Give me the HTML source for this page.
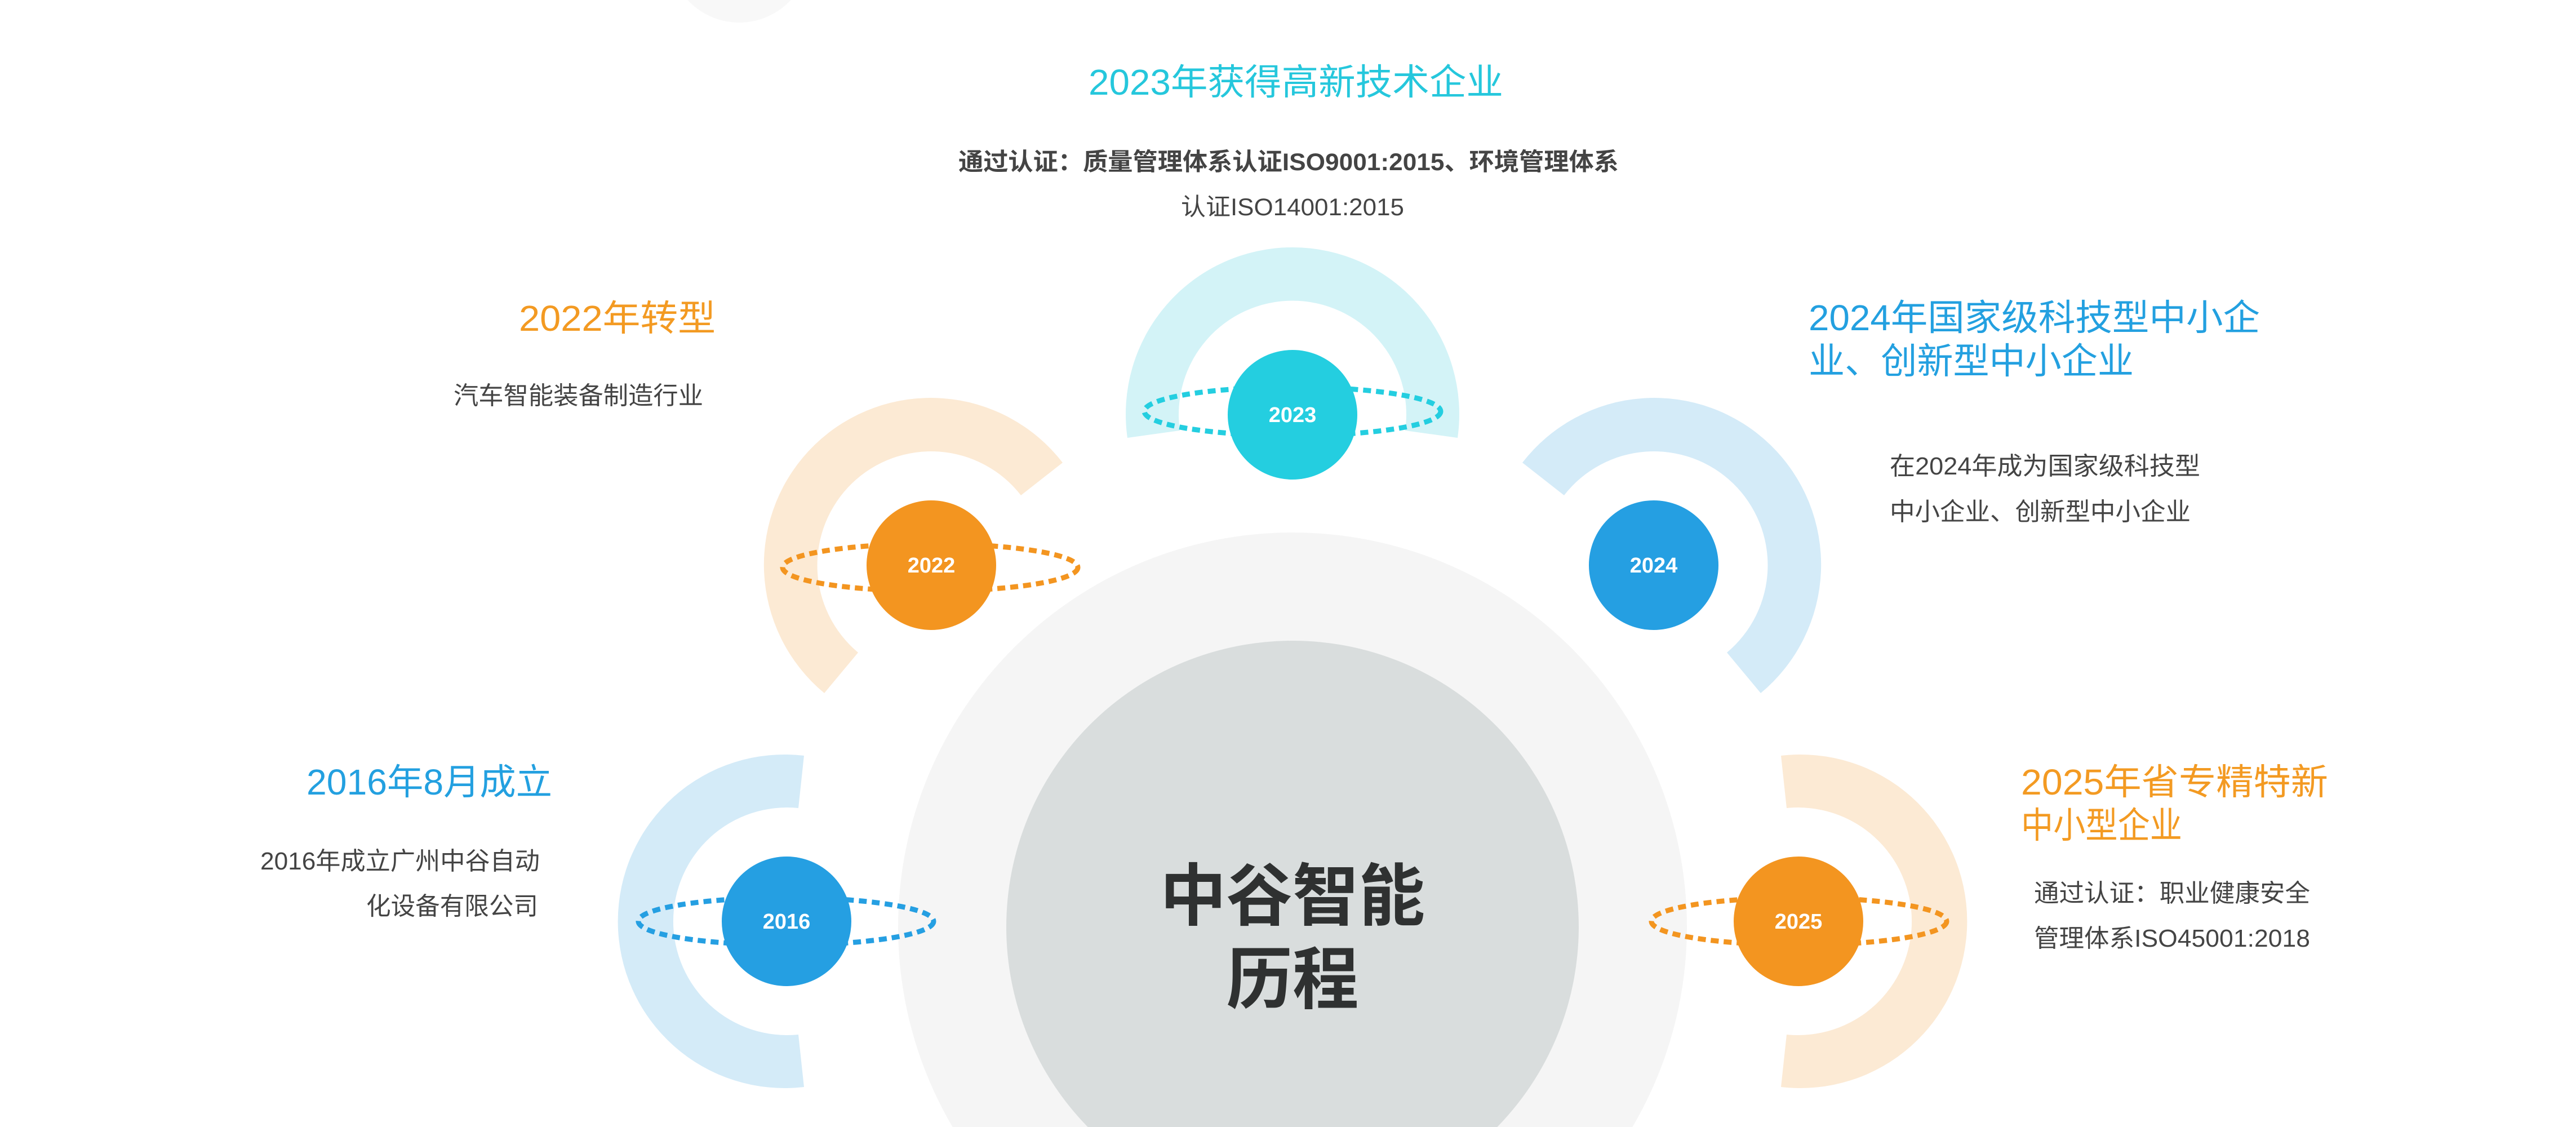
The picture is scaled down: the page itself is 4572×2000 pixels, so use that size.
<!DOCTYPE html>
<html><head><meta charset="utf-8"><style>
html,body{margin:0;padding:0;background:#fff;width:4572px;height:2000px;overflow:hidden;}
svg{display:block;}
text{font-family:"Liberation Sans","Noto Sans CJK SC",sans-serif;}
</style></head><body>
<svg width="4572" height="2000" viewBox="0 0 4572 2000" xmlns="http://www.w3.org/2000/svg">
<rect width="4572" height="2000" fill="#fff"/>
<circle cx="1312" cy="-85" r="125" fill="#f8f8f8"/>
<!-- central circles -->
<circle cx="2294" cy="1645" r="700" fill="#f5f5f5"/>
<circle cx="2294" cy="1645" r="508" fill="#d9dddd"/>
<text x="2294" y="1632" text-anchor="middle" font-size="120" font-weight="bold" fill="#2f3131" textLength="470" lengthAdjust="spacingAndGlyphs">中谷智能</text>
<text x="2294" y="1780" text-anchor="middle" font-size="120" font-weight="bold" fill="#2f3131" textLength="235" lengthAdjust="spacingAndGlyphs">历程</text>

<!-- arcs -->
<path d="M1886 821 A296 296 0 1 0 1463 1230 L1523 1158 A202 202 0 1 1 1812 879 Z" fill="#fcead4"/>
<path d="M1886 821 A296 296 0 1 0 1463 1230 L1523 1158 A202 202 0 1 1 1812 879 Z" fill="#d4ebf8" transform="translate(4588,0) scale(-1,1)"/>
<path d="M2001 777 A296 296 0 1 1 2587 777 L2494 764 A202 202 0 1 0 2094 764 Z" fill="#d3f3f7"/>
<path d="M1427 1341 A296 296 0 1 0 1427 1929 L1417 1836 A202 202 0 1 1 1417 1434 Z" fill="#d4ebf8"/>
<path d="M1427 1341 A296 296 0 1 0 1427 1929 L1417 1836 A202 202 0 1 1 1417 1434 Z" fill="#fcead4" transform="translate(4588,0) scale(-1,1)"/>

<!-- dotted ellipses -->
<g fill="none" stroke-width="9" stroke-dasharray="14 9">
<ellipse cx="1651" cy="1007" rx="262" ry="42" stroke="#f39520"/>
<ellipse cx="2294" cy="730" rx="263" ry="43" stroke="#24cee0"/>
<ellipse cx="1395" cy="1635" rx="262" ry="42" stroke="#259fe2"/>
<ellipse cx="3193" cy="1635" rx="262" ry="42" stroke="#f39520"/>
</g>

<!-- year circles -->
<g font-size="38" font-weight="bold" fill="#fff" text-anchor="middle">
<circle cx="1653" cy="1003" r="115" fill="#f39520"/>
<text x="1653" y="1016">2022</text>
<circle cx="2294" cy="736" r="115" fill="#24cee0"/>
<text x="2294" y="749">2023</text>
<circle cx="2935" cy="1003" r="115" fill="#259fe2"/>
<text x="2935" y="1016">2024</text>
<circle cx="1396" cy="1635" r="115" fill="#259fe2"/>
<text x="1396" y="1648">2016</text>
<circle cx="3192" cy="1635" r="115" fill="#f39520"/>
<text x="3192" y="1648">2025</text>
</g>

<!-- 2023 texts -->
<text x="1932" y="168" font-size="64" fill="#25c7dc" textLength="736" lengthAdjust="spacingAndGlyphs">2023年获得高新技术企业</text>
<text x="1701" y="302" font-size="43" font-weight="bold" fill="#444" textLength="1172" lengthAdjust="spacingAndGlyphs">通过认证：质量管理体系认证ISO9001:2015、环境管理体系</text>
<text x="2096" y="382" font-size="43" fill="#444" textLength="396" lengthAdjust="spacingAndGlyphs">认证ISO14001:2015</text>

<!-- 2022 texts -->
<text x="921" y="587" font-size="64" fill="#f39a22" textLength="349" lengthAdjust="spacingAndGlyphs">2022年转型</text>
<text x="805" y="717" font-size="44" fill="#444" textLength="443" lengthAdjust="spacingAndGlyphs">汽车智能装备制造行业</text>

<!-- 2024 texts -->
<text x="3210" y="586" font-size="64" fill="#23a0e0" textLength="801" lengthAdjust="spacingAndGlyphs">2024年国家级科技型中小企</text>
<text x="3210" y="663" font-size="64" fill="#23a0e0" textLength="577" lengthAdjust="spacingAndGlyphs">业、创新型中小企业</text>
<text x="3354" y="842" font-size="44" fill="#444" textLength="551" lengthAdjust="spacingAndGlyphs">在2024年成为国家级科技型</text>
<text x="3354" y="923" font-size="44" fill="#444" textLength="534" lengthAdjust="spacingAndGlyphs">中小企业、创新型中小企业</text>

<!-- 2016 texts -->
<text x="544" y="1410" font-size="64" fill="#23a0e0" textLength="436" lengthAdjust="spacingAndGlyphs">2016年8月成立</text>
<text x="462" y="1543" font-size="44" fill="#444" textLength="496" lengthAdjust="spacingAndGlyphs">2016年成立广州中谷自动</text>
<text x="650" y="1623" font-size="44" fill="#444" textLength="305" lengthAdjust="spacingAndGlyphs">化设备有限公司</text>

<!-- 2025 texts -->
<text x="3587" y="1410" font-size="64" fill="#f39a22" textLength="545" lengthAdjust="spacingAndGlyphs">2025年省专精特新</text>
<text x="3587" y="1487" font-size="64" fill="#f39a22" textLength="286" lengthAdjust="spacingAndGlyphs">中小型企业</text>
<text x="3610" y="1600" font-size="44" fill="#444" textLength="490" lengthAdjust="spacingAndGlyphs">通过认证：职业健康安全</text>
<text x="3610" y="1680" font-size="44" fill="#444" textLength="490" lengthAdjust="spacingAndGlyphs">管理体系ISO45001:2018</text>
</svg>
</body></html>
